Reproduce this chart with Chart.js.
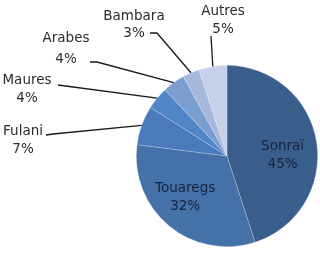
<!DOCTYPE html>
<html>
<head>
<meta charset="utf-8">
<script src="https://cdn.jsdelivr.net/npm/chart.js@4.4.1/dist/chart.umd.min.js"></script>
<style>
  html, body { margin: 0; padding: 0; background: #fff; }
  #wrap { width: 320px; height: 279px; position: relative; }
</style>
</head>
<body>
<div id="wrap"><canvas id="pieChart"></canvas></div>
<script>
/* ============================
   DATA
   ============================ */
const LABELS = ["Sonraï", "Touaregs", "Fulani", "Maures", "Arabes", "Bambara", "Autres"];
const VALUES = [45, 32, 7, 4, 4, 3, 5];
const COLORS = ["#3a5e8c", "#4571a9", "#4a7abb", "#5086c8", "#7c9dd0", "#a6b8dc", "#c6d0e6"];

/* ============================
   LABEL LAYOUT
   ============================ */
// inside labels: offset from arc centroid
const INSIDE = {
  0: { dx: 0, dy: 8 },
  1: { dx: -6, dy: -2 },
};
// outside labels: text centres + leader line start
const OUTSIDE = {
  2: { x: 23, y1: 131, y2: 149, line: [[46, 135], [53, 134]] },
  3: { x: 27, y1: 80, y2: 98, line: [[58, 85]] },
  4: { x: 66, y1: 38, y2: 59, line: [[90, 62], [97, 62]] },
  5: { x: 134, y1: 16, y2: 33, line: [[150, 33], [157, 33]] },
  6: { x: 223, y1: 11, y2: 29, line: [[211, 36]] },
};

const FONT = "13.5px 'DejaVu Sans', sans-serif";

const pieLabels = {
  id: "pieLabels",
  afterDatasetsDraw(chart) {
    const ctx = chart.ctx;
    const arcs = chart.getDatasetMeta(0).data;
    ctx.save();
    ctx.font = FONT;
    ctx.textAlign = "center";
    ctx.textBaseline = "middle";

    arcs.forEach((arc, i) => {
      const p = arc.getProps(["x", "y", "startAngle", "endAngle", "outerRadius"], true);
      const mid = (p.startAngle + p.endAngle) / 2;
      const pct = VALUES[i] + "%";

      if (INSIDE[i]) {
        const r = p.outerRadius * 0.62;
        const cx = p.x + Math.cos(mid) * r + INSIDE[i].dx;
        const cy = p.y + Math.sin(mid) * r + INSIDE[i].dy;
        ctx.fillStyle = "#16243d";
        ctx.fillText(LABELS[i], cx, cy - 9);
        ctx.fillText(pct, cx, cy + 9);
        return;
      }

      const o = OUTSIDE[i];
      if (!o) return;
      // leader line to arc edge
      const ex = p.x + Math.cos(mid) * p.outerRadius;
      const ey = p.y + Math.sin(mid) * p.outerRadius;
      ctx.strokeStyle = "#1a1a1a";
      ctx.lineWidth = 1.3;
      ctx.beginPath();
      o.line.forEach(([lx, ly], k) => (k === 0 ? ctx.moveTo(lx, ly) : ctx.lineTo(lx, ly)));
      ctx.lineTo(ex, ey);
      ctx.stroke();

      ctx.fillStyle = "#2b2b2b";
      ctx.fillText(LABELS[i], o.x, o.y1);
      ctx.fillText(pct, o.x, o.y2);
    });
    ctx.restore();
  },
};

new Chart(document.getElementById("pieChart"), {
  type: "pie",
  data: {
    labels: LABELS,
    datasets: [
      {
        data: VALUES,
        backgroundColor: COLORS,
        borderColor: "rgba(255,255,255,0.35)",
        borderWidth: 0.6,
      },
    ],
  },
  options: {
    responsive: true,
    maintainAspectRatio: false,
    animation: false,
    layout: { padding: { left: 136, right: 2, top: 65, bottom: 32 } },
    plugins: {
      legend: { display: false },
      tooltip: { enabled: false },
    },
  },
  plugins: [pieLabels],
});
</script>
</body>
</html>
